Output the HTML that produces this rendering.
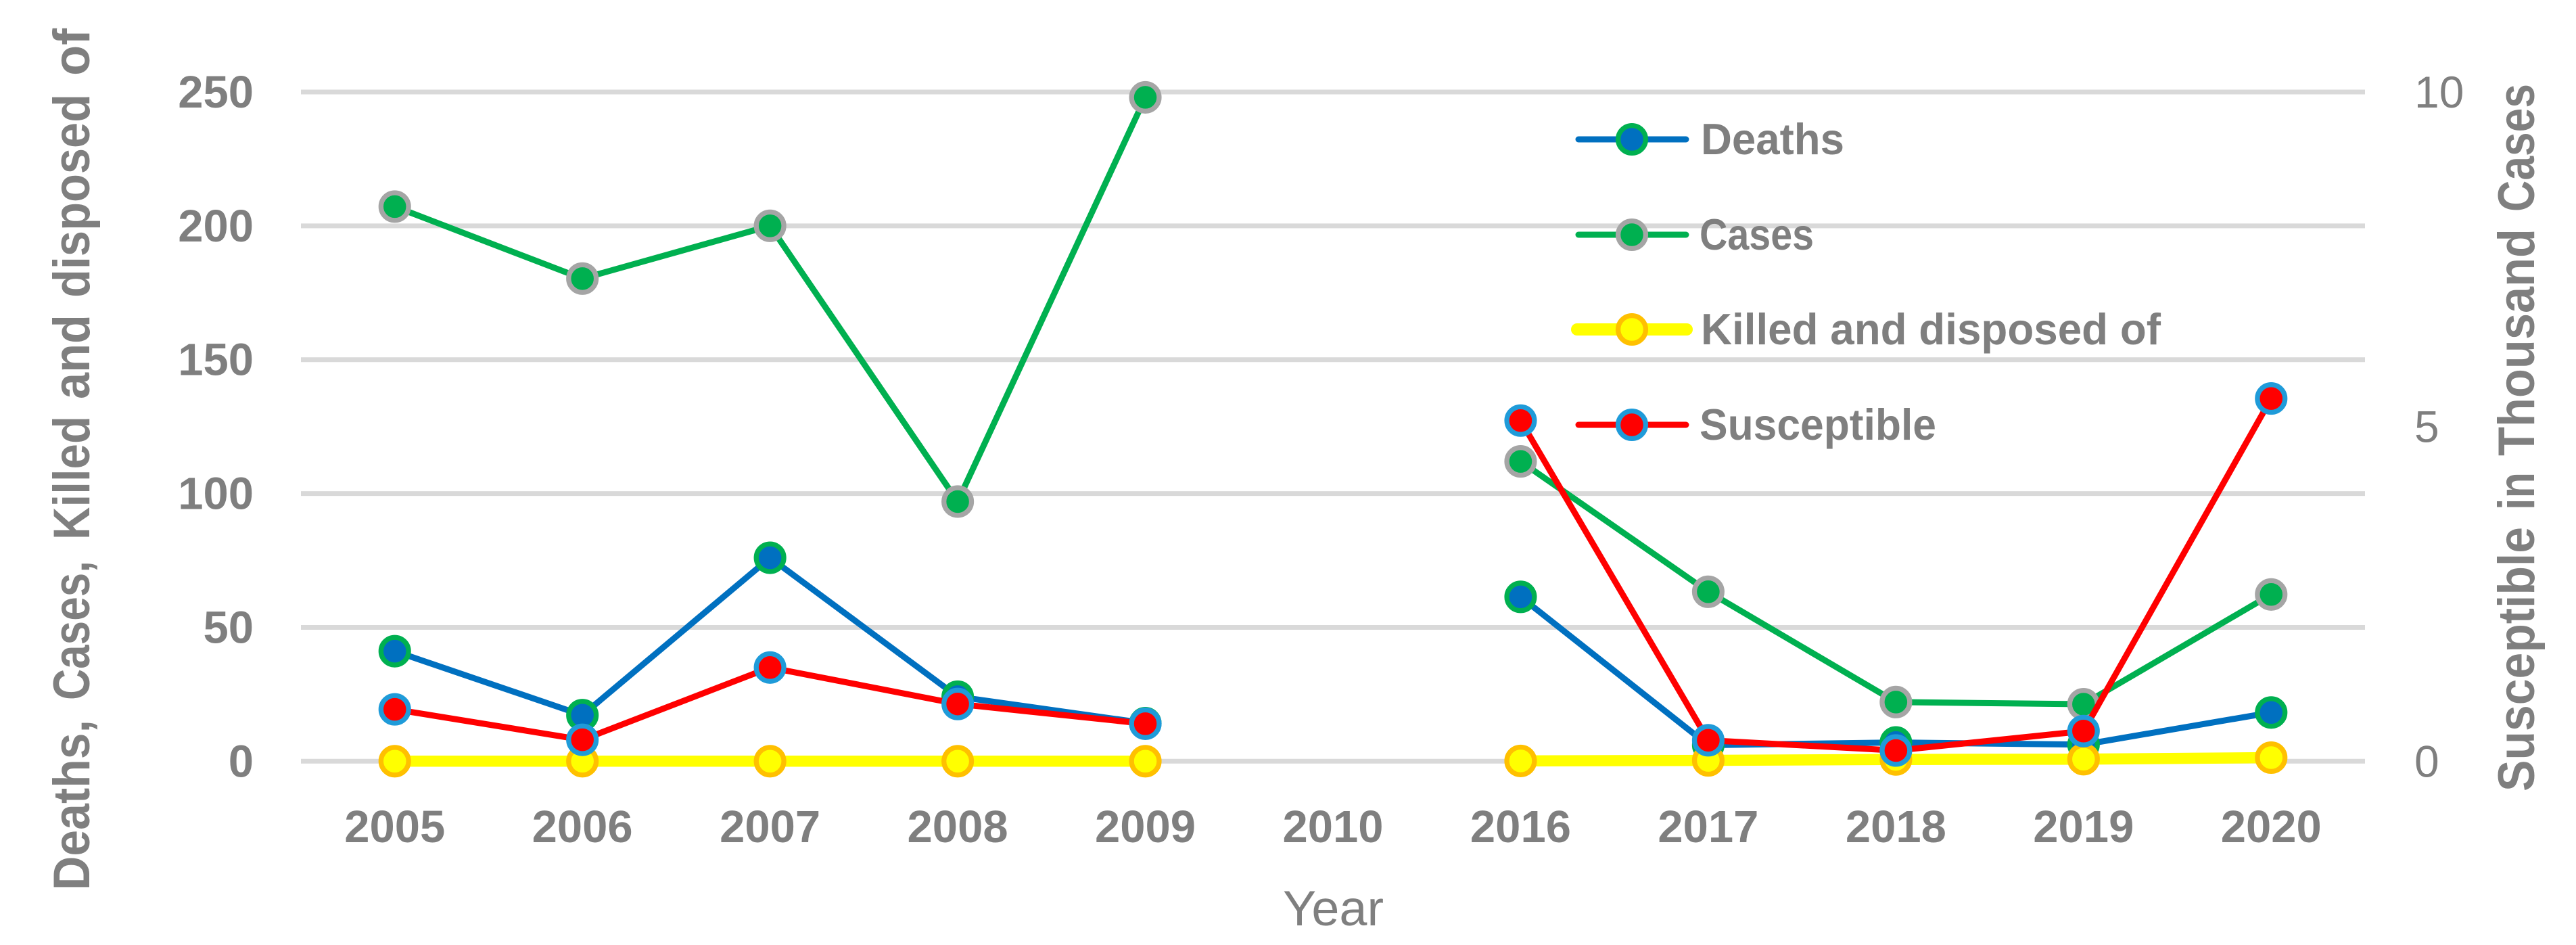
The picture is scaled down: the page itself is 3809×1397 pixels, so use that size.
<!DOCTYPE html>
<html lang="en">
<head>
<meta charset="utf-8">
<title>Deaths, Cases, Killed and disposed of, and Susceptible by Year</title>
<style>
  html, body { margin: 0; padding: 0; background: #ffffff; }
  body { width: 3809px; height: 1397px; overflow: hidden; }
  svg { display: block; }
  text { font-family: "Liberation Sans", Arial, sans-serif; fill: #7f7f7f; white-space: pre; }
  .tick { font-size: 67px; font-weight: 700; }
  .tick-r { font-size: 66px; font-weight: 400; }
  .title { font-size: 76px; font-weight: 700; }
  .legend-text { font-size: 65px; font-weight: 700; }
</style>
</head>
<body>
<svg id="chart" xmlns="http://www.w3.org/2000/svg" width="3809" height="1397" viewBox="0 0 3809 1397">
  <rect x="0" y="0" width="3809" height="1397" fill="#ffffff"/>
  <g id="grid"></g>
  <g id="y-left"></g>
  <g id="y-right"></g>
  <g id="x-axis"></g>
  <g id="series"></g>

  <g>
    <text class="title" transform="translate(132 1316) rotate(-90)" textLength="252" lengthAdjust="spacingAndGlyphs">Deaths,</text>
    <text class="title" transform="translate(132 1035) rotate(-90)" textLength="206" lengthAdjust="spacingAndGlyphs">Cases,</text>
    <text class="title" transform="translate(132 798) rotate(-90)" textLength="183" lengthAdjust="spacingAndGlyphs">Killed</text>
    <text class="title" transform="translate(132 590) rotate(-90)" textLength="125" lengthAdjust="spacingAndGlyphs">and</text>
    <text class="title" transform="translate(132 440) rotate(-90)" textLength="301" lengthAdjust="spacingAndGlyphs">disposed</text>
    <text class="title" transform="translate(132 112) rotate(-90)" textLength="70" lengthAdjust="spacingAndGlyphs">of</text>
  </g>
  <g>
    <text class="title" transform="translate(3747 1170) rotate(-90)" textLength="391" lengthAdjust="spacingAndGlyphs">Susceptible</text>
    <text class="title" transform="translate(3747 754) rotate(-90)" textLength="56" lengthAdjust="spacingAndGlyphs">in</text>
    <text class="title" transform="translate(3747 674) rotate(-90)" textLength="336" lengthAdjust="spacingAndGlyphs">Thousand</text>
    <text class="title" transform="translate(3747 313) rotate(-90)" textLength="189" lengthAdjust="spacingAndGlyphs">Cases</text>
  </g>
  <text x="1971.5" y="1368" text-anchor="middle" font-size="73" textLength="149" lengthAdjust="spacingAndGlyphs">Year</text>

  <g>
    <g>
      <line x1="2334" y1="206" x2="2493" y2="206" stroke="#0070C0" stroke-width="9" stroke-linecap="round"/>
      <circle cx="2413" cy="206" r="20.4" fill="#0070C0" stroke="#00B050" stroke-width="7.3"/>
      <text class="legend-text" x="2515" y="228" textLength="212" lengthAdjust="spacingAndGlyphs">Deaths</text>
    </g>
    <g>
      <line x1="2334" y1="347" x2="2493" y2="347" stroke="#00B050" stroke-width="9" stroke-linecap="round"/>
      <circle cx="2413" cy="347" r="20.4" fill="#00B050" stroke="#A5A5A5" stroke-width="7.3"/>
      <text class="legend-text" x="2513" y="369" textLength="169" lengthAdjust="spacingAndGlyphs">Cases</text>
    </g>
    <g>
      <line x1="2332" y1="487" x2="2494" y2="487" stroke="#FFFF00" stroke-width="18" stroke-linecap="round"/>
      <circle cx="2413" cy="487" r="20.4" fill="#FFFF00" stroke="#FFC000" stroke-width="7.3"/>
      <text class="legend-text" x="2515" y="509" textLength="680" lengthAdjust="spacingAndGlyphs">Killed and disposed of</text>
    </g>
    <g>
      <line x1="2334" y1="628" x2="2493" y2="628" stroke="#FF0000" stroke-width="9" stroke-linecap="round"/>
      <circle cx="2413" cy="628" r="20.4" fill="#FF0000" stroke="#1F9BD9" stroke-width="7.3"/>
      <text class="legend-text" x="2513" y="650" textLength="350" lengthAdjust="spacingAndGlyphs">Susceptible</text>
    </g>
  </g>
</svg>

<script>
const categories = ["2005","2006","2007","2008","2009","2010","2016","2017","2018","2019","2020"];
const deaths      = [41.1, 17.2, 76, 24.1, 14.2, null, 61.4, 6, 7, 6.2, 18.2];
const cases       = [207.2, 180.3, 200, 97, 248, null, 112, 63.3, 22.1, 21.3, 62.3];
const killed      = [0, 0, 0, 0, 0, null, 0.1, 0.3, 0.66, 0.76, 1.34];
const susceptible = [0.775, 0.32, 1.4, 0.855, 0.56, null, 5.09, 0.313, 0.16, 0.45, 5.42];
const leftTicks  = [0, 50, 100, 150, 200, 250];
const rightTicks = [0, 5, 10];

const NS = "http://www.w3.org/2000/svg";
const plotLeft = 445, plotRight = 3497, plotTop = 136, plotBottom = 1125.3;
const leftMax = 250, rightMax = 10;

function xScale(i) {
  return plotLeft + (plotRight - plotLeft) * (i + 0.5) / categories.length;
}
function yLeft(v) {
  return plotBottom - (plotBottom - plotTop) * v / leftMax;
}
function yRight(v) {
  return plotBottom - (plotBottom - plotTop) * v / rightMax;
}
function make(tag, parent, attrs) {
  const el = document.createElementNS(NS, tag);
  for (const k in attrs) el.setAttribute(k, attrs[k]);
  parent.appendChild(el);
  return el;
}

const gridGroup = document.getElementById("grid");
const leftGroup = document.getElementById("y-left");
const rightGroup = document.getElementById("y-right");
const xGroup = document.getElementById("x-axis");
const seriesGroup = document.getElementById("series");

leftTicks.forEach(function (t) {
  const y = yLeft(t);
  const line = make("line", gridGroup, { x1: plotLeft, x2: plotRight, y1: y, y2: y, stroke: "#D9D9D9", "stroke-width": 7 });
  
  
  const label = make("text", leftGroup, { class: "tick", x: 375, y: y + 23, "text-anchor": "end" });
  label.textContent = String(t);
  
  
});

rightTicks.forEach(function (t) {
  const label = make("text", rightGroup, { class: "tick-r", x: 3570, y: yRight(t) + 23 });
  label.textContent = String(t);
  
  
});

categories.forEach(function (c, i) {
  const label = make("text", xGroup, { class: "tick", x: xScale(i), y: 1245, "text-anchor": "middle" });
  label.textContent = c;
  
  
});

function drawSeries(values, yFn, lineColor, lineWidth, fill, ring, name) {
  const group = make("g", seriesGroup, {});
  
  
  let d = "";
  let pen = false;
  values.forEach(function (v, i) {
    if (v === null) { pen = false; return; }
    d += (pen ? "L" : "M") + xScale(i).toFixed(2) + " " + yFn(v).toFixed(2);
    pen = true;
  });
  const path = make("path", group, { d: d, fill: "none", stroke: lineColor, "stroke-width": lineWidth, "stroke-linejoin": "round" });
  
  
  values.forEach(function (v, i) {
    if (v === null) return;
    const dot = make("circle", group, { cx: xScale(i), cy: yFn(v), r: 20.4, fill: fill, stroke: ring, "stroke-width": 7.3 });
    
    
  });
}

drawSeries(deaths, yLeft, "#0070C0", 9, "#0070C0", "#00B050", "deaths");
drawSeries(cases, yLeft, "#00B050", 9, "#00B050", "#A5A5A5", "cases");
drawSeries(killed, yLeft, "#FFFF00", 16.5, "#FFFF00", "#FFC000", "killed-and-disposed-of");
drawSeries(susceptible, yRight, "#FF0000", 9, "#FF0000", "#1F9BD9", "susceptible");
</script>
</body>
</html>
